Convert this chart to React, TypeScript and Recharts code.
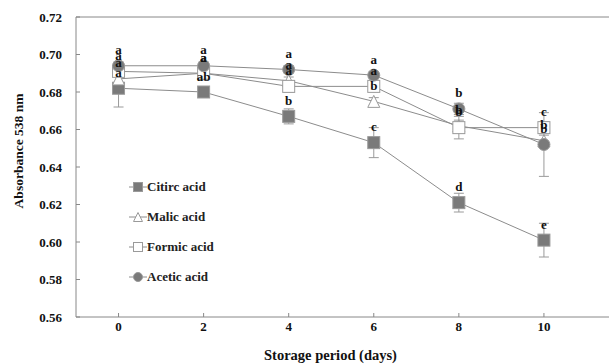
import { LineChart, Line, XAxis, YAxis, ErrorBar, LabelList, Legend, ReferenceLine, Label } from "recharts";

const DAYS = [0, 2, 4, 6, 8, 10];
const Y_TICKS = [0.56, 0.58, 0.6, 0.62, 0.64, 0.66, 0.68, 0.7, 0.72];

const CITRIC = [0.682, 0.68, 0.667, 0.653, 0.621, 0.601];
const CITRIC_ERR = [0.01, 0.002, 0.004, 0.008, 0.005, 0.009];
const CITRIC_SIG = ["a", "ab", "b", "c", "d", "e"];

const MALIC = [0.687, 0.69, 0.686, 0.675, 0.662, 0.654];
const MALIC_ERR = [0.002, 0.002, 0.002, 0.002, 0.003, 0.003];
const MALIC_SIG = ["a", "a", "a", "b", "b", "b"];

const FORMIC = [0.691, 0.69, 0.683, 0.683, 0.661, 0.661];
const FORMIC_ERR = [0.002, 0.002, 0.003, 0.002, 0.006, 0.003];
const FORMIC_SIG = ["a", "a", "a", "a", "b", "c"];

const ACETIC = [0.694, 0.694, 0.692, 0.689, 0.671, 0.652];
const ACETIC_ERR = [0.002, 0.002, 0.002, 0.002, 0.003, 0.017];
const ACETIC_SIG = ["a", "a", "a", "a", "b", "b"];

const FONT = '"Liberation Serif", "Times New Roman", serif';
const MARK = "#7a7a7a";
const EDGE = "#9a9a9a";
const LINE = "#8c8c8c";
const AXIS = "#888";

const data = DAYS.map((day, i) => ({
  day,
  citric: CITRIC[i], citricErr: CITRIC_ERR[i], citricSig: CITRIC_SIG[i],
  malic: MALIC[i], malicErr: MALIC_ERR[i], malicSig: MALIC_SIG[i],
  formic: FORMIC[i], formicErr: FORMIC_ERR[i], formicSig: FORMIC_SIG[i],
  acetic: ACETIC[i], aceticErr: ACETIC_ERR[i], aceticSig: ACETIC_SIG[i],
}));

type Shape = "square" | "triangle" | "open" | "circle";

function marker(shape: Shape, cx: number, cy: number, s: number, key?: string) {
  const h = s / 2;
  if (shape === "square")
    return <rect key={key} x={cx - h} y={cy - h} width={s} height={s} fill={MARK} stroke={EDGE} strokeWidth={1} />;
  if (shape === "open")
    return <rect key={key} x={cx - h} y={cy - h} width={s} height={s} fill="#fff" stroke={EDGE} strokeWidth={1} />;
  if (shape === "triangle")
    return (
      <polygon key={key} points={`${cx},${cy - h} ${cx + h},${cy + h} ${cx - h},${cy + h}`}
        fill="#fff" stroke={EDGE} strokeWidth={1} />
    );
  return <circle key={key} cx={cx} cy={cy} r={h} fill={MARK} stroke={EDGE} strokeWidth={1} />;
}

const SERIES: { key: string; name: string; shape: Shape }[] = [
  { key: "citric", name: "Citirc acid", shape: "square" },
  { key: "malic", name: "Malic acid", shape: "triangle" },
  { key: "formic", name: "Formic acid", shape: "open" },
  { key: "acetic", name: "Acetic acid", shape: "circle" },
];

const sigLabel = (p: any) => (
  <text x={p.x} y={p.y - 16} textAnchor="middle" dominantBaseline="central"
    fontFamily={FONT} fontWeight="bold" fontSize={13} fill="#111">
    {p.value}
  </text>
);

const renderLegend = () => (
  <div style={{ fontFamily: FONT, fontWeight: "bold", fontSize: 13, color: "#222" }}>
    {SERIES.map((s) => (
      <div key={s.key} style={{ display: "flex", alignItems: "center", height: 30 }}>
        <svg width={18} height={12}>
          <line x1={0} y1={6} x2={18} y2={6} stroke={LINE} strokeWidth={1} />
          {marker(s.shape, 9, 6, 9)}
        </svg>
        <span>{s.name}</span>
      </div>
    ))}
  </div>
);

export default function App() {
  return (
    <div style={{ position: "absolute", left: 0, top: 0, width: 609, height: 364, overflow: "hidden", background: "#fff" }}>
      <LineChart width={640} height={364} data={data} margin={{ top: 17, right: 11, left: 0, bottom: 0 }}>
        <XAxis
          type="number"
          dataKey="day"
          domain={[-1, 12]}
          ticks={DAYS}
          height={47}
          stroke={AXIS}
          tickSize={-4}
          tickMargin={9}
          tick={{ fontFamily: FONT, fontWeight: "bold", fontSize: 13, fill: "#111" }}
        >
          <Label value="Storage period (days)" position="insideBottom" offset={4} dx={-22}
            style={{ fontFamily: FONT, fontWeight: "bold", fontSize: 14.5, fill: "#111" }} />
        </XAxis>
        <YAxis
          type="number"
          domain={[0.56, 0.72]}
          ticks={Y_TICKS}
          width={76}
          stroke={AXIS}
          tickSize={-4}
          tickMargin={18}
          tickFormatter={(v: number) => v.toFixed(2)}
          tick={{ fontFamily: FONT, fontWeight: "bold", fontSize: 13, fill: "#111" }}
        >
          <Label
            content={() => (
              <text x={18} y={151} transform="rotate(-90 18 151)" textAnchor="middle" dominantBaseline="central"
                fontFamily={FONT} fontWeight="bold" fontSize={13.5} fill="#111">
                Absorbance 538 nm
              </text>
            )}
          />
        </YAxis>
        <ReferenceLine y={0.72} stroke={AXIS} />
        {/* centred/middle keeps the legend from reserving space around the plot */}
        <Legend layout="vertical" align="center" verticalAlign="middle" content={renderLegend}
          wrapperStyle={{ left: 129, top: 172, width: 120 }} />
        {SERIES.map((s) => (
          <Line
            key={s.key}
            dataKey={s.key}
            name={s.name}
            stroke={LINE}
            strokeWidth={1}
            isAnimationActive={false}
            dot={(p: any) => marker(s.shape, p.cx, p.cy, 12, `${s.key}-${p.index}`)}
            activeDot={false}
          >
            <ErrorBar dataKey={`${s.key}Err`} direction="y" width={5} stroke={EDGE} strokeWidth={1} />
            <LabelList dataKey={`${s.key}Sig`} content={sigLabel} />
          </Line>
        ))}
      </LineChart>
    </div>
  );
}
